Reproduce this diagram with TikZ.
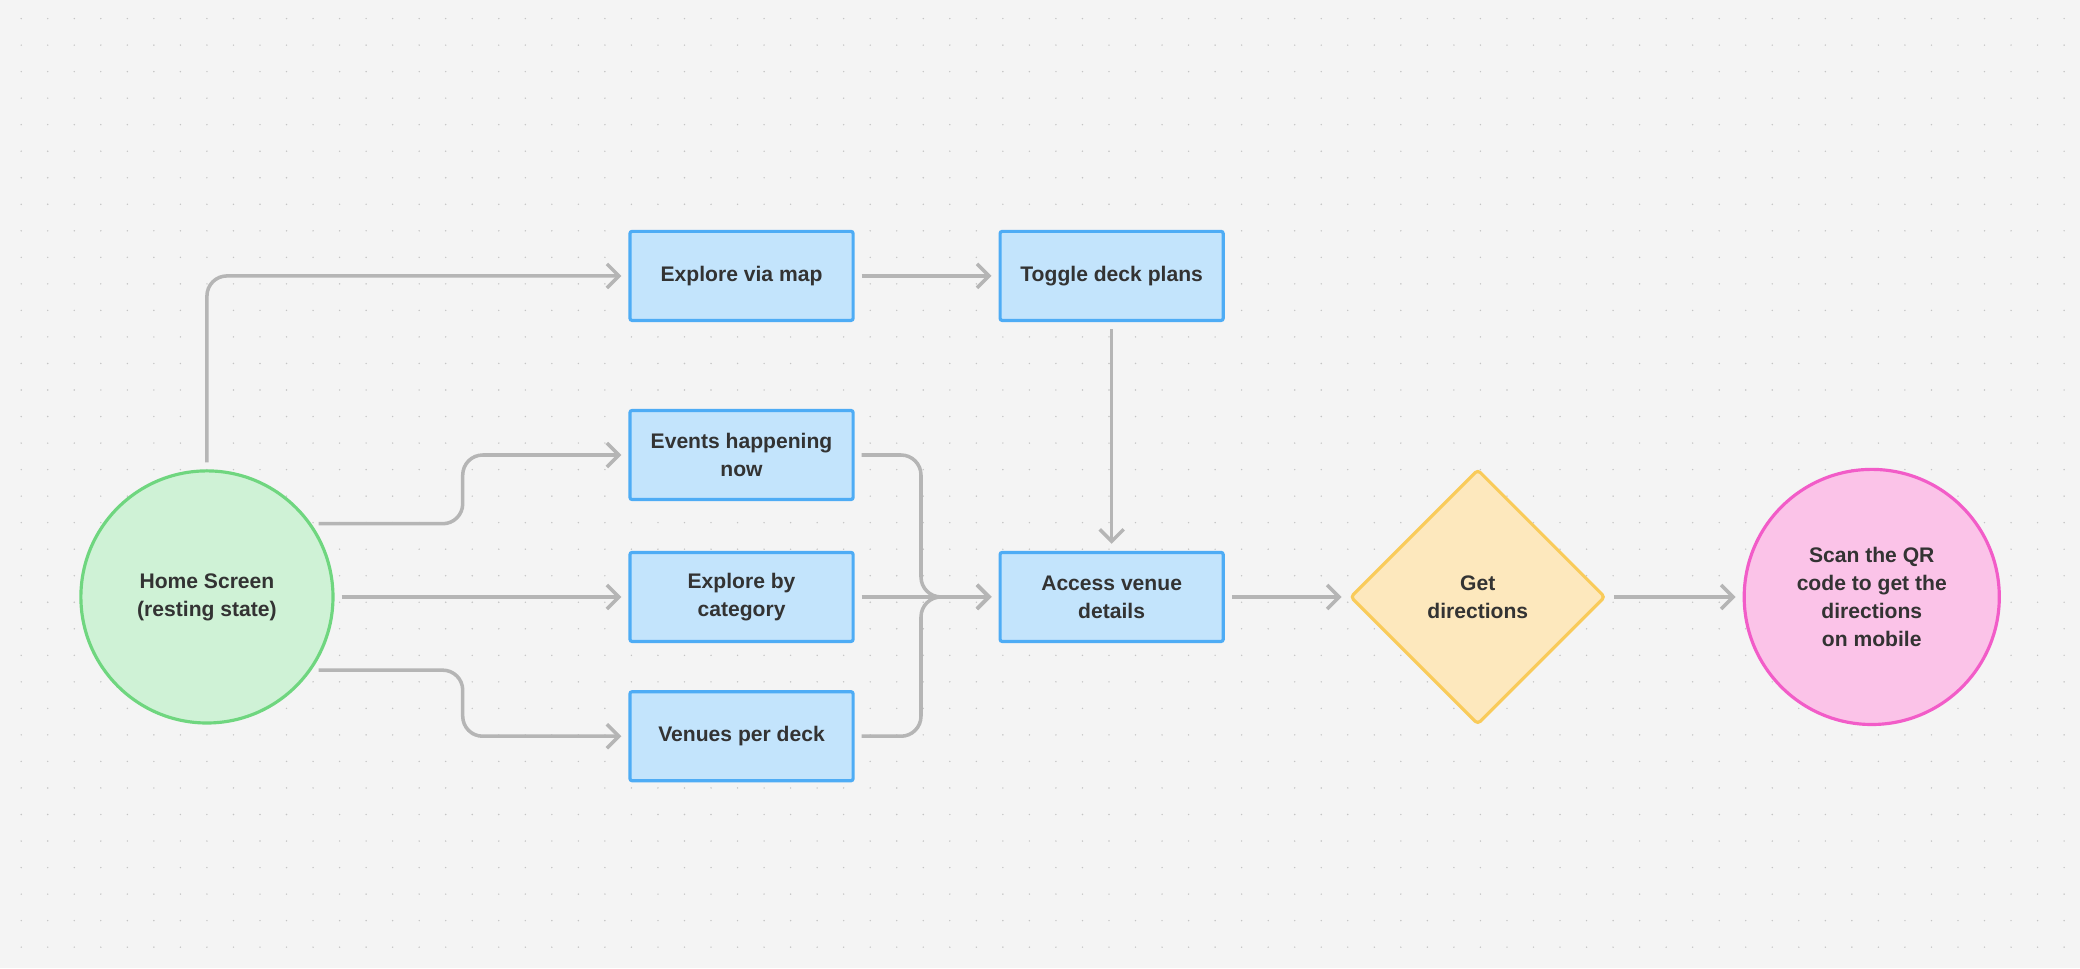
\documentclass[tikz,border=0pt]{standalone}
\usepackage{fontspec}
\setmainfont{Liberation Sans}
\usetikzlibrary{arrows.meta,shapes.geometric,positioning}
\definecolor{bgcol}{HTML}{F4F4F4}
\definecolor{dotcol}{HTML}{C4C4C4}
\definecolor{linecol}{HTML}{B5B5B5}
\definecolor{boxfill}{HTML}{C3E4FC}
\definecolor{boxline}{HTML}{4EACF5}
\definecolor{startfill}{HTML}{CFF2D6}
\definecolor{startline}{HTML}{6FD67F}
\definecolor{decfill}{HTML}{FDE8BD}
\definecolor{decline}{HTML}{F9CB5A}
\definecolor{endfill}{HTML}{FBC3E8}
\definecolor{endline}{HTML}{F25CC8}
\tikzset{
  every node/.style={font=\fontsize{6}{8}\selectfont\bfseries, text=black!80, align=center},
  screen/.style={draw=boxline, fill=boxfill, line width=0.9pt, rounded corners=0.6pt,
    minimum width=2.23cm, minimum height=0.89cm, inner sep=1pt},
  start/.style={circle, draw=startline, fill=startfill, line width=0.9pt, minimum size=2.52cm},
  finish/.style={circle, draw=endline, fill=endfill, line width=0.9pt, minimum size=2.55cm},
  choice/.style={diamond, draw=decline, fill=decfill, line width=0.9pt, minimum size=2.55cm, rounded corners=1pt},
  flow/.style={draw=linecol, line width=1pt, rounded corners=0.2cm,
    -{Straight Barb[length=0.12cm,width=0.24cm]}, shorten <=0.07cm, shorten >=0.07cm},
}
\begin{document}
\begin{tikzpicture}[x=0.013265cm, y=-0.013265cm]
  \fill[bgcol] (0,0) rectangle (1568,730);
  % dotted grid
  \foreach \i in {0,...,77}
    \foreach \j in {0,...,35}
      \fill[dotcol] (16+20*\i, 14+20*\j) circle (0.6);

  \node[start] (home) at (156,450) {Home Screen\\(resting state)};
  \node[screen] (map) at (559,208) {Explore via map};
  \node[screen] (events) at (559,343) {Events happening\\now};
  \node[screen] (category) at (559,450) {Explore by\\category};
  \node[screen] (venues) at (559,555) {Venues per deck};
  \node[screen] (toggle) at (838,208) {Toggle deck plans};
  \node[screen] (access) at (838,450) {Access venue\\details};
  \node[choice] (dirs) at (1114,450) {Get\\directions};
  \node[finish] (scan) at (1411,450) {Scan the QR\\code to get the\\directions\\on mobile};

  \draw[flow] (home.north) |- (map.west);
  \draw[flow] (home.35) -- ++(114,0) |- (events.west);
  \draw[flow] (home.east) -- (category.west);
  \draw[flow] (home.-35) -- ++(114,0) |- (venues.west);
  \draw[flow] (map.east) -- (toggle.west);
  \draw[flow] (toggle.south) -- (access.north);
  \draw[flow] (events.east) -- ++(50,0) |- (access.west);
  \draw[flow] (venues.east) -- ++(50,0) |- (access.west);
  \draw[flow] (category.east) -- (access.west);
  \draw[flow] (access.east) -- (dirs.west);
  \draw[flow] (dirs.east) -- (scan.west);
\end{tikzpicture}
\end{document}
